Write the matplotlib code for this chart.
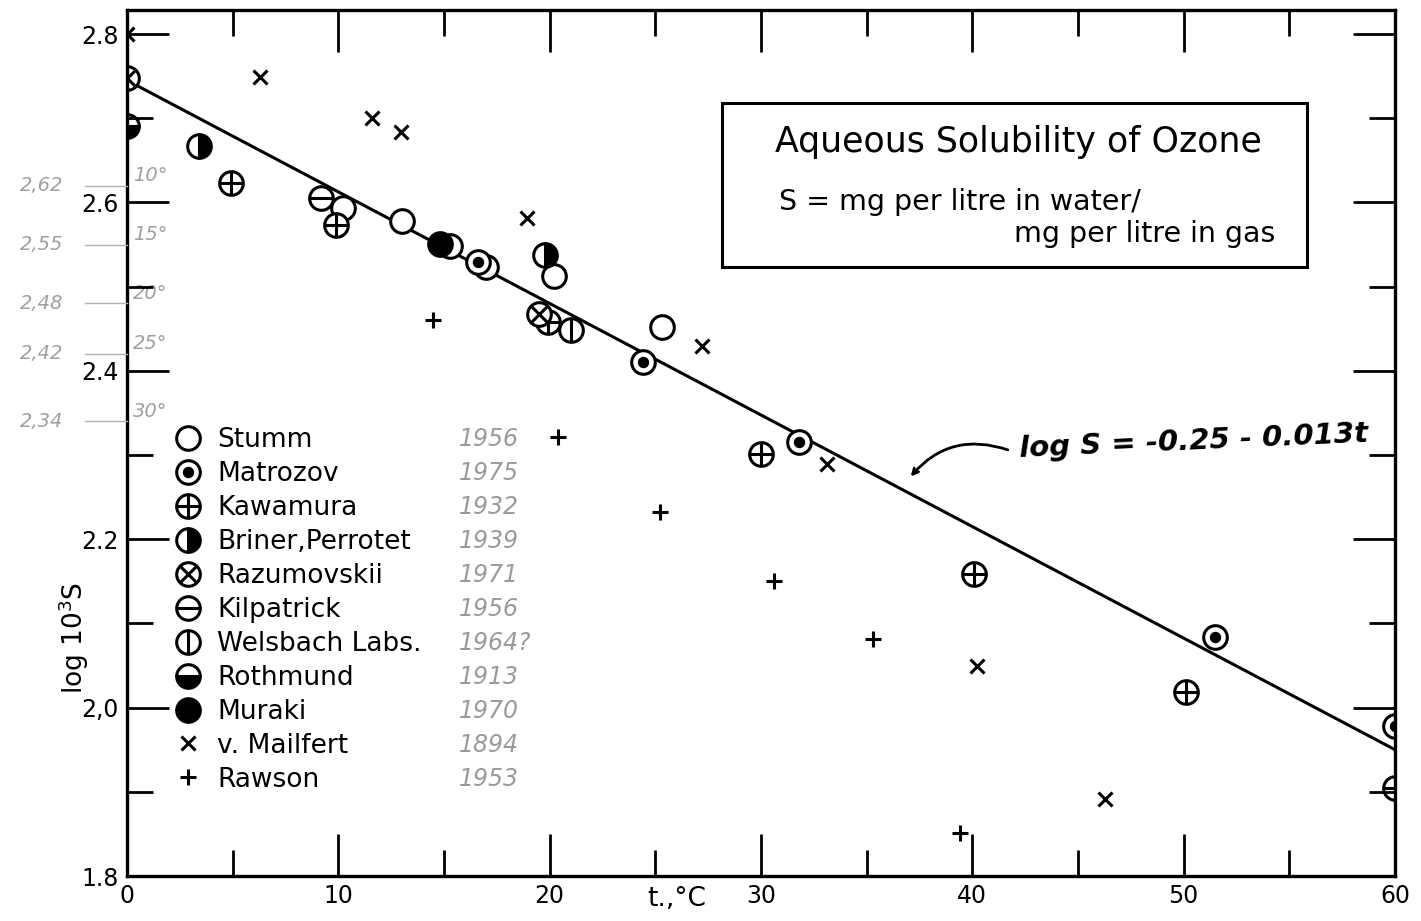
import matplotlib
matplotlib.use('Agg')
import matplotlib.pyplot as plt
from matplotlib.lines import Line2D
from matplotlib.patches import Rectangle

# values: t (deg C) and log 10^3 S
stumm_t = [10.2, 13.0, 15.3, 17.0, 20.2, 25.3]
stumm_y = [2.593, 2.578, 2.548, 2.523, 2.512, 2.452]

matrozov_t = [16.6, 24.4, 31.8, 51.5, 60.0]
matrozov_y = [2.529, 2.411, 2.315, 2.084, 1.978]

kawamura_t = [4.9, 9.9, 19.9, 30.0, 40.1, 50.1]
kawamura_y = [2.623, 2.573, 2.458, 2.301, 2.159, 2.019]

briner_t = [3.4, 19.8]
briner_y = [2.667, 2.538]

razum_t = [0.0, 19.5]
razum_y = [2.748, 2.467]

kilpatrick_t = [9.2, 60.0]
kilpatrick_y = [2.605, 1.904]

welsbach_t = [21.0]
welsbach_y = [2.449]

rothmund_t = [0.0]
rothmund_y = [2.691]

muraki_t = [14.8]
muraki_y = [2.551]

mailfert_t = [0.0, 6.3, 11.6, 12.95, 18.95, 27.2, 33.1, 40.2, 46.3]
mailfert_y = [2.800, 2.749, 2.700, 2.684, 2.581, 2.430, 2.289, 2.049, 1.891]

rawson_t = [14.5, 20.4, 25.2, 30.6, 35.3, 39.4]
rawson_y = [2.460, 2.321, 2.232, 2.150, 2.081, 1.851]

fit_t = [0, 60]
fit_y = [2.745, 1.950]

names = ['Stumm', 'Matrozov', 'Kawamura', 'Briner,Perrotet', 'Razumovskii',
         'Kilpatrick', 'Welsbach Labs.', 'Rothmund', 'Muraki', 'v. Mailfert', 'Rawson']
years = ['1956', '1975', '1932', '1939', '1971', '1956', '1964?', '1913', '1970', '1894', '1953']

# pencil notes on the left margin
note_vals = [2.62, 2.55, 2.48, 2.42, 2.34]
note_text = ['2,62', '2,55', '2,48', '2,42', '2,34']
note_deg = ['10°', '15°', '20°', '25°', '30°']

plt.rcParams['font.family'] = ['DejaVu Sans']

fig = plt.figure(figsize=(14.21, 9.21), dpi=100)
ax = fig.add_axes([127/1421, 1-876/921, (1395-127)/1421, (876-10)/921])
ax.set_xlim(0, 60)
ax.set_ylim(1.8, 2.8 + 24/842)

MS = 17
EW = 2.2
K = 'black'


def circ(**kw):
    d = dict(marker='o', ms=MS, mew=EW, mec=K, mfc='white', ls='none')
    d.update(kw)
    return d


def over(m, ms, **kw):
    d = dict(marker=m, ms=ms, mew=EW, mec=K, mfc=K, ls='none')
    d.update(kw)
    return d


# each series: (t, y, list of layered marker styles)
series = [
    (stumm_t, stumm_y, [circ()]),
    (matrozov_t, matrozov_y, [circ(), over('o', 6)]),
    (kawamura_t, kawamura_y, [circ(), over('+', MS)]),
    (briner_t, briner_y, [circ(fillstyle='right', mfc=K, mfcalt='white')]),
    (razum_t, razum_y, [circ(), over('x', MS*0.7)]),
    (kilpatrick_t, kilpatrick_y, [circ(), over('_', MS)]),
    (welsbach_t, welsbach_y, [circ(), over('|', MS)]),
    (rothmund_t, rothmund_y, [circ(fillstyle='bottom', mfc=K, mfcalt='white')]),
    (muraki_t, muraki_y, [circ(mfc=K)]),
    (mailfert_t, mailfert_y, [over('x', 10, mew=2.2)]),
    (rawson_t, rawson_y, [over('+', 11, mew=2.2)]),
]

ax.plot(fit_t, fit_y, color=K, lw=2.2, zorder=2)

handles = []
for t, y, layers in series:
    hs = []
    for st in layers:
        ax.plot(t, y, zorder=3, **st)
        hs.append(Line2D([], [], **st))
    handles.append(tuple(hs))

# markers sitting on the frame are cut by it in the scan: mask the overflow
for x0 in (-0.012, 1.0):
    ax.add_patch(Rectangle((x0, 0), 0.012, 1, transform=ax.transAxes, fc='white',
                           ec='none', zorder=3.5, clip_on=False))
ax.xaxis.set_zorder(4)
ax.yaxis.set_zorder(4)
for sp in ax.spines.values():
    sp.set_linewidth(2.4)
    sp.set_zorder(5)

leg = ax.legend(handles, names, loc='upper left', bbox_to_anchor=(0.038, 0.518),
                frameon=False, fontsize=19, handlelength=0.95, handletextpad=0.65,
                labelspacing=0.30, borderaxespad=0, borderpad=0)
ax.add_artist(leg)
blank = [Line2D([], [], ls='none') for _ in years]
ax.legend(blank, years, loc='upper left', bbox_to_anchor=(0.262, 0.518),
          frameon=False, handlelength=0, handletextpad=0,
          labelspacing=0.42, borderaxespad=0, borderpad=0, labelcolor='#9a9a9a',
          prop={'style': 'italic', 'size': 17})

# title box
ax.add_patch(Rectangle((0.469, 0.703), 0.4615, 0.19, transform=ax.transAxes,
                       fill=False, lw=2.2, ec=K, zorder=4))
ax.text(0.703, 0.847, 'Aqueous Solubility of Ozone', transform=ax.transAxes,
        ha='center', va='center', fontsize=25)
ax.text(0.514, 0.778, 'S = mg per litre in water/', transform=ax.transAxes,
        ha='left', va='center', fontsize=20.5)
ax.text(0.906, 0.741, 'mg per litre in gas', transform=ax.transAxes,
        ha='right', va='center', fontsize=20.5)

# handwritten fit equation
ax.text(42.2, 2.316, 'log S = -0.25 - 0.013t', fontsize=21, style='italic',
        fontweight='bold', ha='left', va='center', rotation=2.5)
ax.annotate('', xy=(37.0, 2.272), xytext=(41.8, 2.305),
            arrowprops=dict(arrowstyle='->', lw=2, color=K,
                            connectionstyle='arc3,rad=0.35'))

# pencil notes
for v, s, d in zip(note_vals, note_text, note_deg):
    ax.text(-3.0, v, s, ha='right', va='center', fontsize=14, style='italic',
            color='#a0a0a0', clip_on=False, zorder=6)
    ax.plot([-2.0, 0.0], [v, v], color='#b0b0b0', lw=1, clip_on=False, zorder=6)
    ax.text(0.3, v + 0.012, d, ha='left', va='center', fontsize=14, style='italic',
            color='#a0a0a0')

ax.set_xticks(range(0, 61, 10))
ax.set_xticks(range(5, 60, 10), minor=True)
ax.set_yticks([1.8, 2.0, 2.2, 2.4, 2.6, 2.8])
ax.set_yticklabels(['1.8', '2,0', '2.2', '2.4', '2.6', '2.8'])
ax.set_yticks([1.9, 2.1, 2.3, 2.5, 2.7], minor=True)
ax.tick_params(which='both', direction='in', top=True, right=True, width=2,
               labelsize=17, pad=6)
ax.tick_params(which='major', length=30)
ax.tick_params(which='minor', length=19)

ax.text(26.0, -0.012, 't.,°C', transform=ax.get_xaxis_transform(), ha='center',
        va='top', fontsize=19)
ax.set_ylabel('log 10$^3$S', fontsize=19)
ax.yaxis.set_label_coords(-0.028, 0.275)

fig.savefig('out.png', dpi=100)
